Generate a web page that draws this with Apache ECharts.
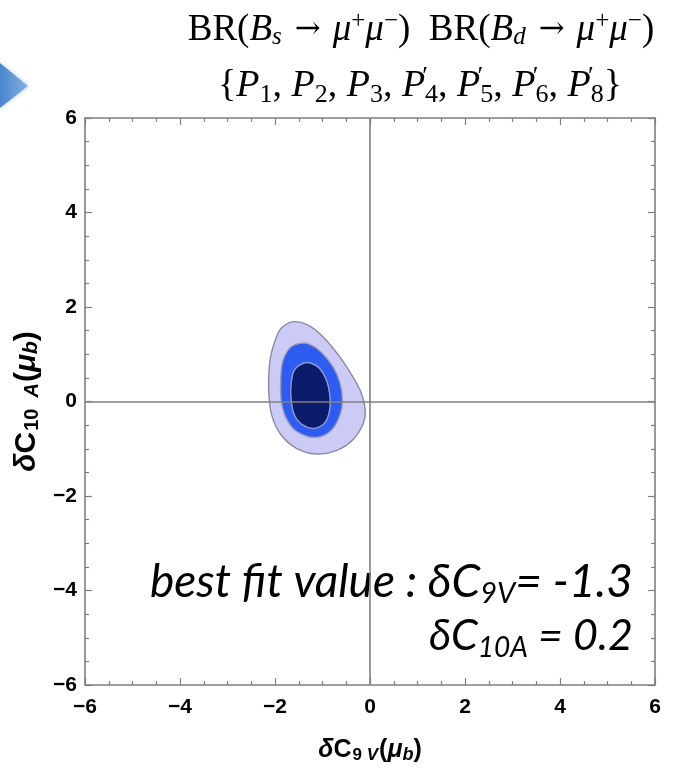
<!DOCTYPE html>
<html>
<head>
<meta charset="utf-8">
<script src="https://cdn.jsdelivr.net/npm/echarts@6/dist/echarts.min.js"></script>
<style>
  html, body { margin: 0; padding: 0; background: #fff; }
  #chart { width: 673px; height: 771px; }
</style>
</head>
<body>
<div id="chart"></div>
<script>
// Axis ranges and tick spacing
const xRange = [-6, 6];
const yRange = [-6, 6];
const tickStep = 2;

// Confidence contours in the (δC9V, δC10A) plane, outermost first
const contourOuter = [
  [-1.62, 1.69], [-1.84, 1.58], [-1.94, 1.44], [-2.06, 1.09], [-2.12, 0.74],
  [-2.13, 0.17], [-2.06, -0.32], [-1.87, -0.71], [-1.55, -0.99], [-1.13, -1.11],
  [-0.71, -1.04], [-0.36, -0.81], [-0.14, -0.46], [-0.10, -0.18], [-0.18, 0.17],
  [-0.36, 0.52], [-0.64, 0.95], [-0.99, 1.37], [-1.31, 1.62]
];
const contourMiddle = [
  [-1.48, 1.23], [-1.69, 1.13], [-1.84, 0.84], [-1.88, 0.46], [-1.87, 0.03],
  [-1.78, -0.32], [-1.59, -0.60], [-1.31, -0.74], [-1.03, -0.74], [-0.78, -0.57],
  [-0.62, -0.25], [-0.58, 0.03], [-0.63, 0.39], [-0.78, 0.74], [-1.03, 1.05],
  [-1.27, 1.21]
];
const contourInner = [
  [-1.40, 0.81], [-1.59, 0.67], [-1.66, 0.39], [-1.66, 0.03], [-1.59, -0.29],
  [-1.41, -0.50], [-1.17, -0.57], [-0.96, -0.46], [-0.85, -0.18], [-0.85, 0.17],
  [-0.92, 0.46], [-1.06, 0.70], [-1.24, 0.81]
];

// Best fit point quoted in the annotation
const bestFit = { c9v: -1.3, c10a: 0.2 };

const contourLayers = [
  { name: 'outer', points: contourOuter, fill: '#cbcbf5', stroke: '#8a8aa6' },
  { name: 'middle', points: contourMiddle, fill: '#2f5cf0', stroke: '#9a9ab8' },
  { name: 'inner', points: contourInner, fill: '#0b1b6c', stroke: '#8f9ad0' }
];

const chart = echarts.init(document.getElementById('chart'), null, { renderer: 'canvas' });

const axisGray = '#7f7f7f';
const tickFont = { fontFamily: 'Liberation Sans', fontWeight: 'bold', fontSize: 21, color: '#000' };
const minusFmt = v => (v < 0 ? '\u2212' + (-v) : '' + v);

function axisDef(kind, position, showLabels) {
  const range = kind === 'x' ? xRange : yRange;
  return {
    type: 'value', position: position, min: range[0], max: range[1], interval: tickStep,
    axisLine: { show: true, onZero: false, lineStyle: { color: axisGray, width: 1.6 } },
    axisTick: { show: true, inside: true, length: 7, lineStyle: { color: axisGray, width: 1.2 } },
    minorTick: { show: true, splitNumber: 4, length: 4, lineStyle: { color: axisGray, width: 1.2 } },
    splitLine: { show: false },
    axisLabel: showLabels
      ? Object.assign({ show: true, margin: kind === 'x' ? 12 : 8, formatter: minusFmt }, tickFont)
      : { show: false }
  };
}

const sans = 'Liberation Sans';
function nameRich(big, small) {
  return {
    d: { fontFamily: sans, fontWeight: 'bold', fontStyle: 'italic', fontSize: big, color: '#000' },
    c: { fontFamily: sans, fontWeight: 'bold', fontSize: big, color: '#000' },
    s: { fontFamily: sans, fontWeight: 'bold', fontSize: small, color: '#000', padding: [10, 0, 0, 1] },
    si: { fontFamily: sans, fontWeight: 'bold', fontStyle: 'italic', fontSize: small, color: '#000', padding: [10, 1, 0, 0] },
    p: { fontFamily: sans, fontWeight: 'bold', fontSize: big, color: '#000' },
    m: { fontFamily: sans, fontWeight: 'bold', fontStyle: 'italic', fontSize: big, color: '#000' },
    sb: { fontFamily: sans, fontWeight: 'bold', fontStyle: 'italic', fontSize: small + 1, color: '#000', padding: [9, 0, 0, 0] }
  };
}

const xBottom = axisDef('x', 'bottom', true);
xBottom.name = '{d|δ}{c|C}{s|9 }{si|V}{p|(}{m|μ}{sb|b}{p|)}';
xBottom.nameLocation = 'middle';
xBottom.nameGap = 52;
xBottom.nameTextStyle = { rich: nameRich(25, 17) };

const yLeft = axisDef('y', 'left', true);
yLeft.name = '{d|δ}{c|C}{s|10  }{si|A}{p|(}{m|μ}{sb|b}{p|)}';
yLeft.nameLocation = 'middle';
yLeft.nameRotate = 90;
yLeft.nameGap = 42;
yLeft.nameTextStyle = { rich: nameRich(30, 20) };

function contourSeries(layer, z) {
  return {
    type: 'custom',
    name: layer.name,
    xAxisIndex: 0, yAxisIndex: 0,
    z: z,
    silent: true,
    clip: true,
    data: layer.points,
    renderItem: function (params, api) {
      if (params.dataIndex !== 0) return null;
      const pts = layer.points.map(p => api.coord(p));
      return {
        type: 'polygon',
        shape: { points: pts, smooth: 0.3 },
        style: { fill: layer.fill, stroke: layer.stroke, lineWidth: 1.4 }
      };
    }
  };
}

const series = contourLayers.map((l, i) => contourSeries(l, 2 + i));

// Zero lines through the origin, drawn above the contours
series.push({
  type: 'line',
  name: 'zero',
  xAxisIndex: 0, yAxisIndex: 0,
  data: [],
  z: 10,
  silent: true,
  markLine: {
    silent: true,
    symbol: ['none', 'none'],
    label: { show: false },
    lineStyle: { color: '#808080', width: 1.6, type: 'solid' },
    data: [{ xAxis: 0 }, { yAxis: 0 }]
  }
});

const serif = 'Liberation Serif';
const titleRich = {
  r: { fontFamily: serif, fontSize: 37, color: '#000' },
  i: { fontFamily: serif, fontStyle: 'italic', fontSize: 37, color: '#000' },
  a: { fontFamily: 'DejaVu Serif', fontSize: 31, color: '#000', padding: [0, 12, 0, 12] },
  sub: { fontFamily: serif, fontStyle: 'italic', fontSize: 25, color: '#000', padding: [14, 1, 0, 0] },
  sup: { fontFamily: serif, fontSize: 25, color: '#000', padding: [0, 0, 17, 0] },
  sp: { fontFamily: serif, fontSize: 37, color: '#000' }
};
const title2Rich = {
  r: { fontFamily: serif, fontSize: 38, color: '#000' },
  i: { fontFamily: serif, fontStyle: 'italic', fontSize: 38, color: '#000' },
  sub: { fontFamily: serif, fontSize: 26, color: '#000', padding: [18, 0, 0, 0] },
  pr: { fontFamily: serif, fontSize: 26, color: '#000', padding: [0, 0, 18, 0], width: 0 }
};

function primed(n) { return '{i|P}{pr|′}{sub|' + n + '}'; }

const annFont = 'Lato';
function annRich(size) {
  return {
    t: { fontFamily: annFont, fontStyle: 'italic', fontSize: size, color: '#111' },
    s: { fontFamily: annFont, fontStyle: 'italic', fontSize: Math.round(size * 0.64), color: '#111', padding: [24, 0, 0, 0] }
  };
}

const fmtNum = v => (v < 0 ? '-' + (-v) : '' + v);

const option = {
  animation: false,
  backgroundColor: '#ffffff',
  grid: { left: 85, top: 118, width: 570, height: 567, containLabel: false },
  xAxis: [xBottom, axisDef('x', 'top', false)],
  yAxis: [yLeft, axisDef('y', 'right', false)],
  series: series,
  graphic: [
    {
      type: 'polygon',
      shape: { points: [[0, 63], [28, 86], [0, 108]] },
      style: {
        fill: { type: 'linear', x: 0, y: 0, x2: 1, y2: 0,
          colorStops: [{ offset: 0, color: '#4a84cc' }, { offset: 1, color: '#86b2e2' }] },
        shadowBlur: 5, shadowColor: 'rgba(110,150,210,0.5)'
      }
    },
    {
      type: 'text', x: 421, y: 30,
      style: {
        text: '{r|BR(}{i|B}{sub|s}{a|→}{i|μ}{sup|+}{i|μ}{sup|−}{r|)}{sp|  }{r|BR(}{i|B}{sub|d}{a|→}{i|μ}{sup|+}{i|μ}{sup|−}{r|)}',
        rich: titleRich, align: 'center', verticalAlign: 'middle'
      }
    },
    {
      type: 'text', x: 420, y: 86,
      style: {
        text: '{r|{}{i|P}{sub|1}{r|, }{i|P}{sub|2}{r|, }{i|P}{sub|3}{r|, }' + primed(4) + '{r|, }' + primed(5) + '{r|, }' + primed(6) + '{r|, }' + primed(8) + '}',
        fontFamily: serif, fontSize: 38, fill: '#000',
        rich: title2Rich, align: 'center', verticalAlign: 'middle'
      }
    },
    {
      type: 'text', x: 633, y: 582,
      style: {
        text: '{t|best fit value : δC}{s|9V}{t|= ' + fmtNum(bestFit.c9v) + '}',
        rich: annRich(46), align: 'right', verticalAlign: 'middle'
      }
    },
    {
      type: 'text', x: 633, y: 636,
      style: {
        text: '{t|δC}{s|10A}{t| = ' + fmtNum(bestFit.c10a) + '}',
        rich: annRich(43), align: 'right', verticalAlign: 'middle'
      }
    }
  ]
};

chart.setOption(option);
</script>
</body>
</html>
